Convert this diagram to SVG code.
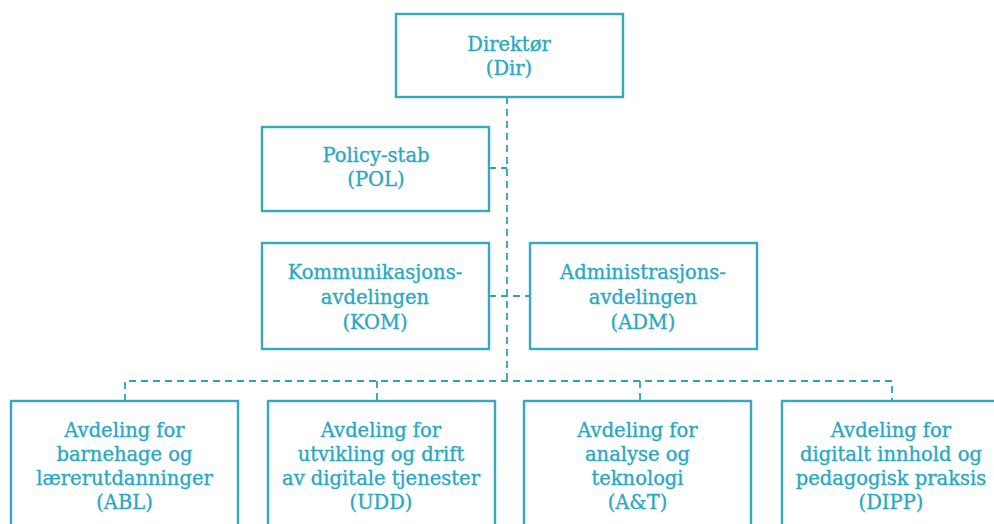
<svg xmlns="http://www.w3.org/2000/svg" width="994" height="524" viewBox="0 0 994 524">
<style>
.box{fill:#fff;stroke:#35a8c0;stroke-width:2.4}
.t{font-family:"DejaVu Serif","Liberation Serif",serif;font-size:19.5px;fill:#2aa8c2;stroke:#2aa8c2;stroke-width:0.35;text-anchor:middle}
.c{fill:none;stroke:#2ba3bb;stroke-width:1.8;stroke-dasharray:7 5}
</style>
<rect width="994" height="524" fill="#fff"/>
<g id="connectors">
<path class="c" d="M507 97 V381"/>
<path class="c" d="M489 168 H507"/>
<path class="c" d="M489 296 H530"/>
<path class="c" d="M125 401 V381 H892 V401"/>
<path class="c" d="M377 381 V401"/>
<path class="c" d="M640 381 V401"/>
</g>
<g id="dir"><rect class="box" x="396" y="14" width="227" height="83"/>
<text class="t" x="509" y="51">Direktør</text><text class="t" x="509" y="75">(Dir)</text></g>
<g id="pol"><rect class="box" x="262" y="127" width="227" height="84"/>
<text class="t" x="376" y="162">Policy-stab</text><text class="t" x="376" y="186">(POL)</text></g>
<g id="kom"><rect class="box" x="262" y="243" width="227" height="106"/>
<text class="t" x="375" y="279">Kommunikasjons-</text><text class="t" x="375" y="304">avdelingen</text><text class="t" x="375" y="329">(KOM)</text></g>
<g id="adm"><rect class="box" x="530" y="243" width="227" height="106"/>
<text class="t" x="643" y="279">Administrasjons-</text><text class="t" x="643" y="304">avdelingen</text><text class="t" x="643" y="329">(ADM)</text></g>
<g id="abl"><rect class="box" x="11" y="401" width="227" height="140"/>
<text class="t" x="124.5" y="437">Avdeling for</text><text class="t" x="124.5" y="461">barnehage og</text><text class="t" x="124.5" y="485">lærerutdanninger</text><text class="t" x="124.5" y="509">(ABL)</text></g>
<g id="udd"><rect class="box" x="268" y="401" width="227" height="140"/>
<text class="t" x="381" y="437">Avdeling for</text><text class="t" x="381" y="461">utvikling og drift</text><text class="t" x="381" y="485">av digitale tjenester</text><text class="t" x="381" y="509">(UDD)</text></g>
<g id="at"><rect class="box" x="524" y="401" width="227" height="140"/>
<text class="t" x="637.5" y="437">Avdeling for</text><text class="t" x="637.5" y="461">analyse og</text><text class="t" x="637.5" y="485">teknologi</text><text class="t" x="637.5" y="509">(A&amp;T)</text></g>
<g id="dipp"><rect class="box" x="782" y="401" width="228" height="140"/>
<text class="t" x="891" y="437">Avdeling for</text><text class="t" x="891" y="461">digitalt innhold og</text><text class="t" x="891" y="485">pedagogisk praksis</text><text class="t" x="891" y="509">(DIPP)</text></g>
</svg>
